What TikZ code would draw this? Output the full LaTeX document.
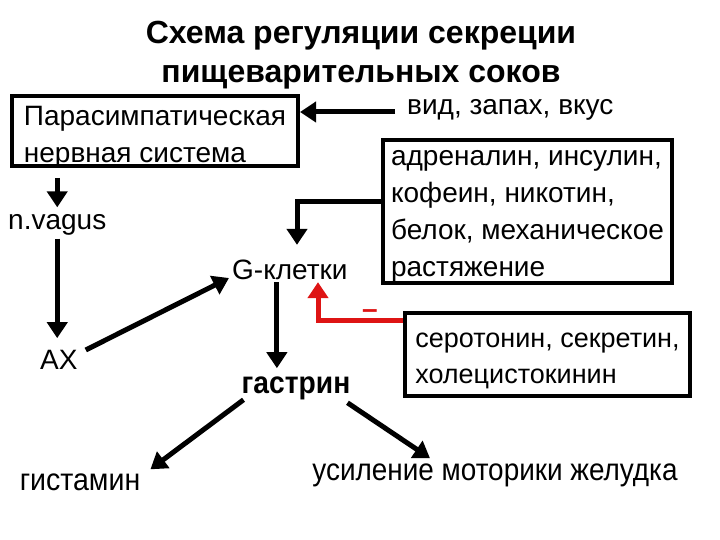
\documentclass[tikz,border=0pt]{standalone}
\usepackage{fontspec}
\setmainfont{Liberation Sans}
\usepackage{graphicx}
\usetikzlibrary{arrows.meta,positioning}

\definecolor{minusred}{RGB}{222,20,20}
% lines of a framed box: height above the first baseline, depth below it
\newcommand{\boxlines}[3]{\raisebox{0pt}[#1][#2]{\begin{tabular}[t]{@{}l@{}}#3\end{tabular}}}

\begin{document}
\begin{tikzpicture}[x=1pt,y=-1pt,
    txt/.style={font=\fontsize{28}{37}\selectfont, inner sep=0pt, anchor=west},
    box/.style={draw, line width=4pt, font=\fontsize{28}{37}\selectfont, inner sep=0pt},
    arr/.style={line width=5pt, -{Triangle[length=16pt,width=20pt]}},
    redarr/.style={arr, draw=minusred, color=minusred}]
    \useasboundingbox (0,0) rectangle (720,540);

    \node (title) [font=\bfseries\fontsize{32}{39}\selectfont, align=center] at (361,55)
      {Схема регуляции секреции\\пищеварительных соков};

    \node (psns) [box, minimum width=286pt, minimum height=70pt] at (155,131)
      {\boxlines{20pt}{31pt}{Парасимпатическая\\нервная система}};
    \node (vid) [txt] at (407,110) {вид, запах, вкус};
    \draw[arr] ([xshift=-12pt,yshift=-2pt]vid.west) -- ([yshift=-2pt]psns.east |- vid.west);

    \node (adr) [box, minimum width=289pt, minimum height=143pt] at (527.5,211.5)
      {\boxlines{20pt}{111pt}{адреналин, инсулин,\\кофеин, никотин,\\белок, механическое\\растяжение}};

    \node (nvagus) [txt] at (8,225) {n.vagus};
    \node (ax) [txt] at (40,360) {АХ};
    \node (gcell) [txt] at (232,270) {G-клетки};

    \coordinate (elbow) at (297,202);
    \draw[arr] (adr.west |- elbow) -- (elbow) -- ([yshift=15pt]elbow |- gcell.north);

    \draw[arr] ([yshift=-10pt]psns.south -| nvagus.north) -- ([yshift=7pt]nvagus.north);
    \draw[arr] ([yshift=-3pt]nvagus.south) -- ([yshift=12pt]nvagus.south |- ax.north);
    \draw[arr] ([xshift=8pt,yshift=10pt]ax.east) -- ([xshift=-3pt,yshift=-8pt]gcell.west);

    \node (ser) [box, font=\fontsize{27}{36}\selectfont, minimum width=285pt, minimum height=83pt]
      at (547.5,354.5) {\boxlines{25pt}{40pt}{серотонин, секретин,\\холецистокинин}};
    \coordinate (redcorner) at (318,320);
    \draw[redarr] (ser.west |- redcorner) -- (redcorner) -- ([yshift=-2pt]redcorner |- gcell.south);
    \node (minus) [font=\bfseries\fontsize{28}{30}\selectfont, text=minusred, inner sep=0pt]
      at (370,314) {–};

    \node (gastrin) [font=\bfseries\fontsize{31}{37}\selectfont, inner sep=0pt] at (296,388)
      {\scalebox{0.91}[1]{гастрин}};
    \draw[arr] ([xshift=-13pt,yshift=-2pt]gcell.south) -- ([xshift=-13pt,yshift=8pt]gcell.south |- gastrin.north);

    \node (hist) [font=\fontsize{31}{37}\selectfont, inner sep=0pt] at (80,482)
      {\scalebox{0.92}[1]{гистамин}};
    \node (usil) [font=\fontsize{31}{37}\selectfont, inner sep=0pt] at (495,475)
      {\scalebox{0.9}[1]{усиление моторики желудка}};
    \draw[arr] ([xshift=2pt]gastrin.south west) -- ([xshift=10pt,yshift=4pt]hist.north east);
    \draw[arr] ([xshift=-3pt,yshift=-3pt]gastrin.south east) -- ([xshift=-65pt,yshift=5pt]usil.north);
\end{tikzpicture}
\end{document}
